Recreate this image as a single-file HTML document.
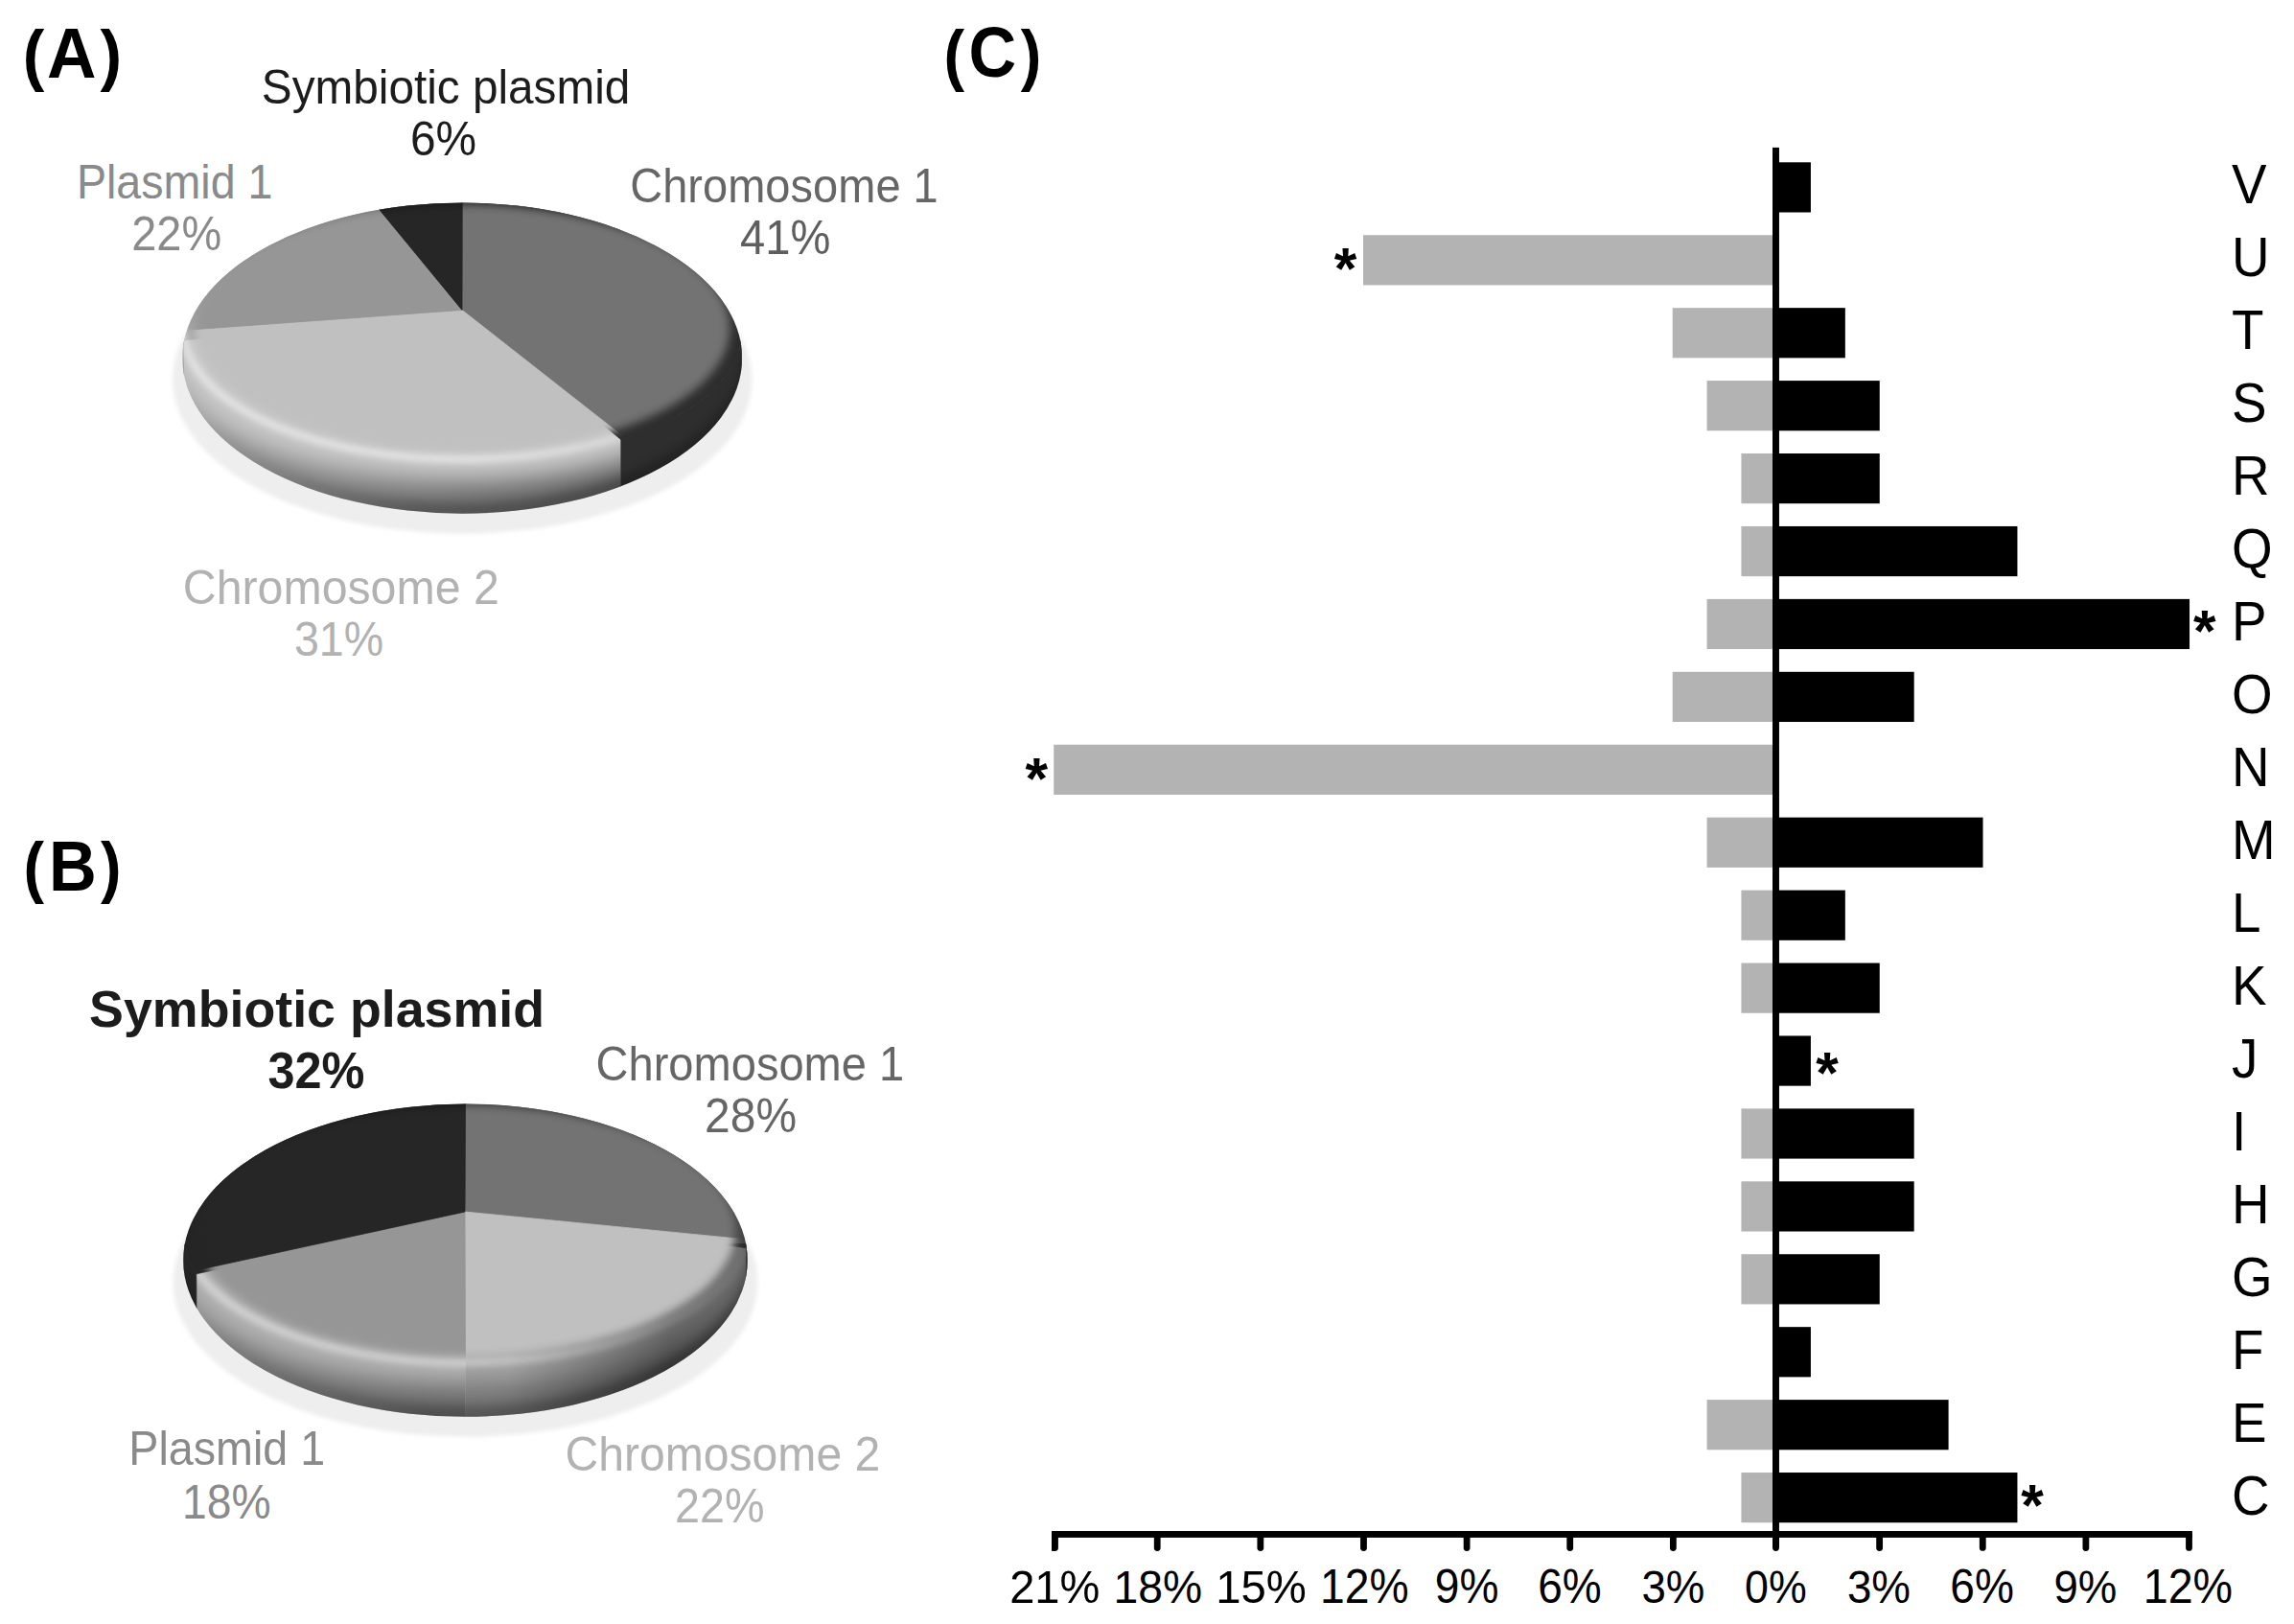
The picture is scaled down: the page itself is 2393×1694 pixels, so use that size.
<!DOCTYPE html>
<html><head><meta charset="utf-8"><title>Figure</title>
<style>html,body{margin:0;padding:0;background:#fff}svg{display:block;font-family:"Liberation Sans",sans-serif}</style></head>
<body>
<svg width="2393" height="1694" viewBox="0 0 2393 1694" font-family="&quot;Liberation Sans&quot;, sans-serif">
<defs>
<filter id="blur8" x="-20%" y="-20%" width="140%" height="140%"><feGaussianBlur stdDeviation="7"/></filter>
<filter id="blur3" x="-20%" y="-50%" width="140%" height="200%"><feGaussianBlur stdDeviation="3.2"/></filter>
<filter id="blursh" x="-10%" y="-10%" width="120%" height="120%"><feGaussianBlur stdDeviation="2.2"/></filter>
<filter id="blurdk" x="-20%" y="-20%" width="140%" height="140%"><feGaussianBlur stdDeviation="13"/></filter>
<filter id="blurdk2" x="-20%" y="-20%" width="140%" height="140%"><feGaussianBlur stdDeviation="5"/></filter>
<filter id="blurflat" x="-20%" y="-20%" width="140%" height="140%"><feGaussianBlur stdDeviation="5"/></filter>
</defs>
<rect width="2393" height="1694" fill="#fff"/>
<defs><linearGradient id="dkgradA" x1="0" y1="0" x2="1" y2="0"><stop offset="0.03" stop-color="#000" stop-opacity="0.25"/><stop offset="0.5" stop-color="#000" stop-opacity="0.45"/><stop offset="0.7646" stop-color="#000" stop-opacity="0.52"/><stop offset="0.7652" stop-color="#000" stop-opacity="0"/></linearGradient></defs>
<defs><linearGradient id="hlgA" gradientUnits="userSpaceOnUse" x1="190" y1="0" x2="775" y2="0"><stop offset="0" stop-color="#fff" stop-opacity="0.45"/><stop offset="0.5" stop-color="#fff" stop-opacity="0.5"/><stop offset="0.8" stop-color="#fff" stop-opacity="0.3"/></linearGradient></defs>
<defs>
<clipPath id="silA"><path d="M190.20,373.60 A292.0,162.1 0 0 1 774.20,373.60 A292.0,162.1 0 0 1 190.20,373.60 Z"/></clipPath>
<clipPath id="hlA"><rect x="150" y="201.5" width="497.0" height="459.7"/></clipPath>
<mask id="dkA" maskUnits="userSpaceOnUse" x="171" y="192" width="623" height="364">
<rect x="171" y="192" width="623" height="364" fill="#fff"/>
<ellipse cx="482.2" cy="367.0" rx="305.3" ry="135.5" fill="#000" filter="url(#blurdk)"/></mask>
<linearGradient id="dk2gA" gradientUnits="userSpaceOnUse" x1="191" y1="0" x2="442" y2="0"><stop offset="0.1" stop-color="#000" stop-opacity="0"/><stop offset="1" stop-color="#000" stop-opacity="0.24"/></linearGradient>
<mask id="dk2A" maskUnits="userSpaceOnUse" x="171" y="192" width="623" height="364">
<rect x="171" y="192" width="623" height="364" fill="#fff"/>
<ellipse cx="482.2" cy="362.6" rx="294.0" ry="162.1" fill="#000" filter="url(#blurdk2)"/></mask>
<mask id="flatA" maskUnits="userSpaceOnUse" x="171" y="192" width="623" height="331">
<ellipse cx="482.2" cy="342.3" rx="279" ry="129.8" fill="#fff" filter="url(#blurflat)"/></mask>
</defs>
<ellipse cx="482.2" cy="396.0" rx="302.3" ry="160.7" fill="#eeeeee" filter="url(#blursh)"/>
<g clip-path="url(#silA)">
<path d="M482.00,323.40 L482.20,211.50 A291.3,135.5 0 0 1 647.00,458.73 Z" fill="#2e2e2e" stroke="#2e2e2e" stroke-width="0.8"/>
<path d="M773.50,347.00 A291.3,135.5 0 0 1 647.00,458.73 L647.00,540.7 L773.50,540.7 Z" fill="#2e2e2e" stroke="#2e2e2e" stroke-width="0.8"/>
<path d="M482.00,323.40 L647.00,458.73 A291.3,135.5 0 0 1 191.41,355.00 Z" fill="#cacaca" stroke="#cacaca" stroke-width="0.8"/>
<path d="M647.00,458.73 A291.3,135.5 0 0 1 191.41,355.00 L191.41,540.7 L647.00,540.7 Z" fill="#cacaca" stroke="#cacaca" stroke-width="0.8"/>
<path d="M482.00,323.40 L191.41,355.00 A291.3,135.5 0 0 1 395.00,217.71 Z" fill="#aaaaaa" stroke="#aaaaaa" stroke-width="0.8"/>
<path d="M191.41,355.00 A291.3,135.5 0 0 1 190.90,347.00 L190.90,540.7 L191.41,540.7 Z" fill="#aaaaaa" stroke="#aaaaaa" stroke-width="0.8"/>
<path d="M482.00,323.40 L395.00,217.71 A291.3,135.5 0 0 1 482.20,211.50 Z" fill="#262626" stroke="#262626" stroke-width="0.8"/>
<clipPath id="hlcA"><path d="M482.00,323.40 L647.00,458.73 A291.3,135.5 0 0 1 191.41,355.00 Z"/><path d="M647.00,458.73 A291.3,135.5 0 0 1 191.41,355.00 L191.41,540.7 L647.00,540.7 Z"/><path d="M482.00,323.40 L191.41,355.00 A291.3,135.5 0 0 1 395.00,217.71 Z"/><path d="M191.41,355.00 A291.3,135.5 0 0 1 190.90,347.00 L190.90,540.7 L191.41,540.7 Z"/></clipPath>
<rect x="171" y="192" width="623" height="364" fill="url(#dkgradA)" mask="url(#dkA)"/>
<rect x="171" y="347" width="623" height="229" fill="url(#dk2gA)" mask="url(#dk2A)"/>

<g clip-path="url(#hlcA)"><path d="M190.90,347.00 A291.3,135.5 0 0 0 773.50,347.00" transform="translate(0,-4)" fill="none" stroke="url(#hlgA)" stroke-width="9" filter="url(#blur3)"/></g>
</g>
<g clip-path="url(#silA)"><g mask="url(#flatA)">
<path d="M482.00,323.40 L482.20,211.50 A291.3,135.5 0 0 1 652.30,457.00 Z" fill="#737373" stroke="#737373" stroke-width="0.8"/>
<path d="M482.00,323.40 L652.30,457.00 A291.3,135.5 0 0 1 190.95,344.50 Z" fill="#c0c0c0" stroke="#c0c0c0" stroke-width="0.8"/>
<path d="M482.00,323.40 L190.95,344.50 A291.3,135.5 0 0 1 395.00,217.71 Z" fill="#969696" stroke="#969696" stroke-width="0.8"/>
<path d="M482.00,323.40 L395.00,217.71 A291.3,135.5 0 0 1 482.20,211.50 Z" fill="#262626" stroke="#262626" stroke-width="0.8"/>
</g></g>
<defs><linearGradient id="dkgradB" x1="0" y1="0" x2="1" y2="0"><stop offset="0" stop-color="#000" stop-opacity="0.3"/><stop offset="0.5" stop-color="#000" stop-opacity="0.42"/><stop offset="0.501" stop-color="#000" stop-opacity="0.3"/><stop offset="0.75" stop-color="#000" stop-opacity="0.36"/><stop offset="1" stop-color="#000" stop-opacity="0.36"/></linearGradient></defs>
<defs><linearGradient id="hlgB" gradientUnits="userSpaceOnUse" x1="190" y1="0" x2="780" y2="0"><stop offset="0" stop-color="#fff" stop-opacity="0.4"/><stop offset="0.5" stop-color="#fff" stop-opacity="0.38"/><stop offset="0.8" stop-color="#fff" stop-opacity="0.2"/><stop offset="1" stop-color="#fff" stop-opacity="0.05"/></linearGradient></defs>
<defs>
<clipPath id="silB"><path d="M191.15,1314.65 A294.3,163.15 0 0 1 779.75,1314.65 A294.3,163.15 0 0 1 191.15,1314.65 Z"/></clipPath>
<clipPath id="hlB"><rect x="204.9" y="1141.5" width="574.1" height="463.0"/></clipPath>
<mask id="dkB" maskUnits="userSpaceOnUse" x="171" y="1132" width="628" height="366">
<rect x="171" y="1132" width="628" height="366" fill="#fff"/>
<ellipse cx="485.45" cy="1308.2" rx="308.0" ry="136.7" fill="#000" filter="url(#blurdk)"/></mask>
<linearGradient id="dk2gB" gradientUnits="userSpaceOnUse" x1="191" y1="0" x2="445" y2="0"><stop offset="0.1" stop-color="#000" stop-opacity="0"/><stop offset="1" stop-color="#000" stop-opacity="0.24"/></linearGradient>
<mask id="dk2B" maskUnits="userSpaceOnUse" x="171" y="1132" width="628" height="366">
<rect x="171" y="1132" width="628" height="366" fill="#fff"/>
<ellipse cx="485.45" cy="1303.7" rx="296.3" ry="163.2" fill="#000" filter="url(#blurdk2)"/></mask>
<mask id="flatB" maskUnits="userSpaceOnUse" x="171" y="1132" width="628" height="333">
<ellipse cx="485.45" cy="1283.5" rx="281.6" ry="131.0" fill="#fff" filter="url(#blurflat)"/></mask>
</defs>
<ellipse cx="485.45" cy="1337.6" rx="305.0" ry="161.2" fill="#eeeeee" filter="url(#blursh)"/>
<g clip-path="url(#silB)">
<path d="M485.00,1264.00 L485.45,1151.50 A294.0,136.7 0 0 1 777.86,1302.40 Z" fill="#4a4a4a" stroke="#4a4a4a" stroke-width="0.8"/>
<path d="M779.45,1288.20 A294.0,136.7 0 0 1 777.86,1302.40 L777.86,1482.8 L779.45,1482.8 Z" fill="#4a4a4a" stroke="#4a4a4a" stroke-width="0.8"/>
<path d="M485.00,1264.00 L777.86,1302.40 A294.0,136.7 0 0 1 485.45,1424.90 Z" fill="#a4a4a4" stroke="#a4a4a4" stroke-width="0.8"/>
<path d="M777.86,1302.40 A294.0,136.7 0 0 1 485.45,1424.90 L485.45,1482.8 L777.86,1482.8 Z" fill="#a4a4a4" stroke="#a4a4a4" stroke-width="0.8"/>
<path d="M485.00,1264.00 L485.45,1424.90 A294.0,136.7 0 0 1 204.85,1329.00 Z" fill="#b4b4b4" stroke="#b4b4b4" stroke-width="0.8"/>
<path d="M485.45,1424.90 A294.0,136.7 0 0 1 204.85,1329.00 L204.85,1482.8 L485.45,1482.8 Z" fill="#b4b4b4" stroke="#b4b4b4" stroke-width="0.8"/>
<path d="M485.00,1264.00 L204.85,1329.00 A294.0,136.7 0 0 1 485.45,1151.50 Z" fill="#262626" stroke="#262626" stroke-width="0.8"/>
<path d="M204.85,1329.00 A294.0,136.7 0 0 1 191.45,1288.20 L191.45,1482.8 L204.85,1482.8 Z" fill="#262626" stroke="#262626" stroke-width="0.8"/>
<clipPath id="hlcB"><path d="M485.00,1264.00 L777.86,1302.40 A294.0,136.7 0 0 1 485.45,1424.90 Z"/><path d="M777.86,1302.40 A294.0,136.7 0 0 1 485.45,1424.90 L485.45,1482.8 L777.86,1482.8 Z"/><path d="M485.00,1264.00 L485.45,1424.90 A294.0,136.7 0 0 1 204.85,1329.00 Z"/><path d="M485.45,1424.90 A294.0,136.7 0 0 1 204.85,1329.00 L204.85,1482.8 L485.45,1482.8 Z"/></clipPath>
<rect x="171" y="1132" width="628" height="366" fill="url(#dkgradB)" mask="url(#dkB)"/>
<rect x="171" y="1288" width="628" height="230" fill="url(#dk2gB)" mask="url(#dk2B)"/>
<defs><linearGradient id="exB" gradientUnits="userSpaceOnUse" x1="530" y1="0" x2="700" y2="0"><stop offset="0" stop-color="#000" stop-opacity="0"/><stop offset="1" stop-color="#000" stop-opacity="0.36"/></linearGradient></defs><rect x="530" y="1297" width="260" height="190" fill="url(#exB)"/>
<g clip-path="url(#hlcB)"><path d="M191.45,1288.20 A294.0,136.7 0 0 0 779.45,1288.20" transform="translate(0,-4)" fill="none" stroke="url(#hlgB)" stroke-width="9" filter="url(#blur3)"/></g>
</g>
<g clip-path="url(#silB)"><g mask="url(#flatB)">
<path d="M485.00,1264.00 L485.45,1151.50 A294.0,136.7 0 0 1 779.28,1292.90 Z" fill="#737373" stroke="#737373" stroke-width="0.8"/>
<path d="M485.00,1264.00 L779.28,1292.90 A294.0,136.7 0 0 1 485.45,1424.90 Z" fill="#c0c0c0" stroke="#c0c0c0" stroke-width="0.8"/>
<path d="M485.00,1264.00 L485.45,1424.90 A294.0,136.7 0 0 1 202.61,1325.50 Z" fill="#969696" stroke="#969696" stroke-width="0.8"/>
<path d="M485.00,1264.00 L202.61,1325.50 A294.0,136.7 0 0 1 485.45,1151.50 Z" fill="#262626" stroke="#262626" stroke-width="0.8"/>
</g></g>
<rect x="1852.30" y="169.30" width="36.62" height="52.2" fill="#000"/>
<rect x="1421.98" y="245.23" width="431.32" height="52.2" fill="#b3b3b3"/>
<rect x="1744.72" y="321.16" width="108.58" height="52.2" fill="#b3b3b3"/>
<rect x="1852.30" y="321.16" width="72.54" height="52.2" fill="#000"/>
<rect x="1780.58" y="397.09" width="72.72" height="52.2" fill="#b3b3b3"/>
<rect x="1852.30" y="397.09" width="108.46" height="52.2" fill="#000"/>
<rect x="1816.44" y="473.02" width="36.86" height="52.2" fill="#b3b3b3"/>
<rect x="1852.30" y="473.02" width="108.46" height="52.2" fill="#000"/>
<rect x="1816.44" y="548.95" width="36.86" height="52.2" fill="#b3b3b3"/>
<rect x="1852.30" y="548.95" width="252.14" height="52.2" fill="#000"/>
<rect x="1780.58" y="624.88" width="72.72" height="52.2" fill="#b3b3b3"/>
<rect x="1852.30" y="624.88" width="431.74" height="52.2" fill="#000"/>
<rect x="1744.72" y="700.81" width="108.58" height="52.2" fill="#b3b3b3"/>
<rect x="1852.30" y="700.81" width="144.38" height="52.2" fill="#000"/>
<rect x="1099.24" y="776.74" width="754.06" height="52.2" fill="#b3b3b3"/>
<rect x="1780.58" y="852.67" width="72.72" height="52.2" fill="#b3b3b3"/>
<rect x="1852.30" y="852.67" width="216.22" height="52.2" fill="#000"/>
<rect x="1816.44" y="928.60" width="36.86" height="52.2" fill="#b3b3b3"/>
<rect x="1852.30" y="928.60" width="72.54" height="52.2" fill="#000"/>
<rect x="1816.44" y="1004.53" width="36.86" height="52.2" fill="#b3b3b3"/>
<rect x="1852.30" y="1004.53" width="108.46" height="52.2" fill="#000"/>
<rect x="1852.30" y="1080.46" width="36.62" height="52.2" fill="#000"/>
<rect x="1816.44" y="1156.39" width="36.86" height="52.2" fill="#b3b3b3"/>
<rect x="1852.30" y="1156.39" width="144.38" height="52.2" fill="#000"/>
<rect x="1816.44" y="1232.32" width="36.86" height="52.2" fill="#b3b3b3"/>
<rect x="1852.30" y="1232.32" width="144.38" height="52.2" fill="#000"/>
<rect x="1816.44" y="1308.25" width="36.86" height="52.2" fill="#b3b3b3"/>
<rect x="1852.30" y="1308.25" width="108.46" height="52.2" fill="#000"/>
<rect x="1852.30" y="1384.18" width="36.62" height="52.2" fill="#000"/>
<rect x="1780.58" y="1460.11" width="72.72" height="52.2" fill="#b3b3b3"/>
<rect x="1852.30" y="1460.11" width="180.30" height="52.2" fill="#000"/>
<rect x="1816.44" y="1536.04" width="36.86" height="52.2" fill="#b3b3b3"/>
<rect x="1852.30" y="1536.04" width="252.14" height="52.2" fill="#000"/>
<rect x="1849.0" y="153.9" width="6.95" height="1460.60" fill="#000"/>
<rect x="1097" y="1597.0" width="1189.9" height="6.9" fill="#000"/>
<path d="M1097.10,1600 V1614.5 A3.4,3.4 0 0 0 1103.90,1614.5 V1600 Z" fill="#000"/>
<path d="M1203.82,1600 V1614.5 A3.4,3.4 0 0 0 1210.62,1614.5 V1600 Z" fill="#000"/>
<path d="M1311.45,1600 V1614.5 A3.4,3.4 0 0 0 1318.25,1614.5 V1600 Z" fill="#000"/>
<path d="M1419.08,1600 V1614.5 A3.4,3.4 0 0 0 1425.88,1614.5 V1600 Z" fill="#000"/>
<path d="M1526.71,1600 V1614.5 A3.4,3.4 0 0 0 1533.51,1614.5 V1600 Z" fill="#000"/>
<path d="M1634.34,1600 V1614.5 A3.4,3.4 0 0 0 1641.14,1614.5 V1600 Z" fill="#000"/>
<path d="M1741.97,1600 V1614.5 A3.4,3.4 0 0 0 1748.77,1614.5 V1600 Z" fill="#000"/>
<path d="M1849.10,1600 V1614.5 A3.4,3.4 0 0 0 1855.90,1614.5 V1600 Z" fill="#000"/>
<path d="M1957.23,1600 V1614.5 A3.4,3.4 0 0 0 1964.03,1614.5 V1600 Z" fill="#000"/>
<path d="M2064.86,1600 V1614.5 A3.4,3.4 0 0 0 2071.66,1614.5 V1600 Z" fill="#000"/>
<path d="M2172.49,1600 V1614.5 A3.4,3.4 0 0 0 2179.29,1614.5 V1600 Z" fill="#000"/>
<path d="M2280.10,1600 V1614.5 A3.4,3.4 0 0 0 2286.90,1614.5 V1600 Z" fill="#000"/>
<rect x="1097" y="1600" width="3.5" height="17.9" fill="#000"/>
<text transform="translate(1053.14,1672.30) scale(0.9609,1)" font-size="49.02" fill="#000">21%</text>
<text transform="translate(1161.53,1672.30) scale(0.9434,1)" font-size="49.02" fill="#000">18%</text>
<text transform="translate(1268.25,1672.30) scale(0.9650,1)" font-size="49.02" fill="#000">15%</text>
<text transform="translate(1376.93,1672.30) scale(0.9445,1)" font-size="49.02" fill="#000">12%</text>
<text transform="translate(1496.81,1672.30) scale(0.9405,1)" font-size="49.02" fill="#000">9%</text>
<text transform="translate(1604.20,1672.30) scale(0.9393,1)" font-size="49.02" fill="#000">6%</text>
<text transform="translate(1712.49,1672.30) scale(0.9307,1)" font-size="49.02" fill="#000">3%</text>
<text transform="translate(1820.01,1672.30) scale(0.9130,1)" font-size="49.02" fill="#000">0%</text>
<text transform="translate(1926.88,1672.30) scale(0.9337,1)" font-size="49.02" fill="#000">3%</text>
<text transform="translate(2034.29,1672.30) scale(0.9408,1)" font-size="49.02" fill="#000">6%</text>
<text transform="translate(2142.43,1672.30) scale(0.9300,1)" font-size="49.02" fill="#000">9%</text>
<text transform="translate(2235.70,1672.30) scale(0.9520,1)" font-size="49.02" fill="#000">12%</text>
<text transform="translate(2328.0,211.70) scale(0.965,1)" font-size="56.73">V</text>
<text transform="translate(2328.0,287.70) scale(0.965,1)" font-size="56.73">U</text>
<text transform="translate(2328.0,363.70) scale(0.965,1)" font-size="56.73">T</text>
<text transform="translate(2328.0,439.70) scale(0.965,1)" font-size="56.73">S</text>
<text transform="translate(2328.0,515.70) scale(0.965,1)" font-size="56.73">R</text>
<text transform="translate(2328.0,591.70) scale(0.965,1)" font-size="56.73">Q</text>
<text transform="translate(2328.0,667.70) scale(0.965,1)" font-size="56.73">P</text>
<text transform="translate(2328.0,743.70) scale(0.965,1)" font-size="56.73">O</text>
<text transform="translate(2328.0,819.70) scale(0.965,1)" font-size="56.73">N</text>
<text transform="translate(2328.0,895.70) scale(0.965,1)" font-size="56.73">M</text>
<text transform="translate(2328.0,971.70) scale(0.965,1)" font-size="56.73">L</text>
<text transform="translate(2328.0,1047.70) scale(0.965,1)" font-size="56.73">K</text>
<text transform="translate(2328.0,1123.70) scale(0.965,1)" font-size="56.73">J</text>
<text transform="translate(2328.0,1199.70) scale(0.965,1)" font-size="56.73">I</text>
<text transform="translate(2328.0,1275.70) scale(0.965,1)" font-size="56.73">H</text>
<text transform="translate(2328.0,1351.70) scale(0.965,1)" font-size="56.73">G</text>
<text transform="translate(2328.0,1427.70) scale(0.965,1)" font-size="56.73">F</text>
<text transform="translate(2328.0,1503.70) scale(0.965,1)" font-size="56.73">E</text>
<text transform="translate(2328.0,1579.70) scale(0.965,1)" font-size="56.73">C</text>
<text transform="translate(1391.70,300.58) scale(0.9759,1)" font-size="62.01" font-weight="bold">*</text>
<text transform="translate(1069.45,832.63) scale(0.9759,1)" font-size="62.01" font-weight="bold">*</text>
<text transform="translate(2287.90,678.68) scale(0.9759,1)" font-size="62.01" font-weight="bold">*</text>
<text transform="translate(1894.25,1139.63) scale(0.9759,1)" font-size="62.01" font-weight="bold">*</text>
<text transform="translate(2108.25,1590.63) scale(0.9759,1)" font-size="62.01" font-weight="bold">*</text>
<text transform="scale(0.96,1)" font-weight="bold"><tspan x="24.87" y="80.96" font-size="70.56">(</tspan><tspan x="51.05" y="80.80" font-size="74.18">A</tspan><tspan x="108.85" y="80.96" font-size="70.56">)</tspan></text>
<text transform="scale(0.92,1)" font-weight="bold"><tspan x="26.60" y="928.12" font-size="70.24">(</tspan><tspan x="55.52" y="928.70" font-size="74.91">B</tspan><tspan x="114.07" y="928.12" font-size="70.24">)</tspan></text>
<text transform="scale(0.92,1)" font-weight="bold"><tspan x="1070.13" y="80.96" font-size="70.56">(</tspan><tspan x="1098.34" y="80.35" font-size="74.77">C</tspan><tspan x="1157.39" y="80.96" font-size="70.56">)</tspan></text>
<text transform="translate(272.85,108.00) scale(0.9652,1)" font-size="49.45" fill="#1c1c1c">Symbiotic plasmid</text>
<text transform="translate(427.91,161.50) scale(0.9682,1)" font-size="49.45" fill="#1c1c1c">6%</text>
<text transform="translate(79.96,206.60) scale(0.9417,1)" font-size="49.45" fill="#8a8a8a">Plasmid 1</text>
<text transform="translate(137.25,261.00) scale(0.9493,1)" font-size="49.45" fill="#8a8a8a">22%</text>
<text transform="translate(657.25,211.00) scale(0.9514,1)" font-size="49.45" fill="#666">Chromosome 1</text>
<text transform="translate(772.04,264.80) scale(0.9535,1)" font-size="49.45" fill="#5e5e5e">41%</text>
<text transform="translate(190.79,630.00) scale(0.9764,1)" font-size="49.45" fill="#b2b2b2">Chromosome 2</text>
<text transform="translate(306.95,684.40) scale(0.9421,1)" font-size="49.45" fill="#b2b2b2">31%</text>
<text transform="translate(93.09,1071.20) scale(1.0049,1)" font-size="53.50" fill="#1c1c1c" font-weight="bold">Symbiotic plasmid</text>
<text transform="translate(279.46,1134.70) scale(0.9439,1)" font-size="53.50" fill="#1c1c1c" font-weight="bold">32%</text>
<text transform="translate(621.55,1126.70) scale(0.9517,1)" font-size="49.45" fill="#666">Chromosome 1</text>
<text transform="translate(735.10,1180.70) scale(0.9704,1)" font-size="49.45" fill="#666">28%</text>
<text transform="translate(134.25,1527.80) scale(0.9441,1)" font-size="49.45" fill="#8a8a8a">Plasmid 1</text>
<text transform="translate(190.03,1583.70) scale(0.9351,1)" font-size="49.45" fill="#8a8a8a">18%</text>
<text transform="translate(589.39,1533.50) scale(0.9734,1)" font-size="49.45" fill="#b2b2b2">Chromosome 2</text>
<text transform="translate(703.96,1587.70) scale(0.9450,1)" font-size="49.45" fill="#b2b2b2">22%</text>
</svg>
</body></html>
